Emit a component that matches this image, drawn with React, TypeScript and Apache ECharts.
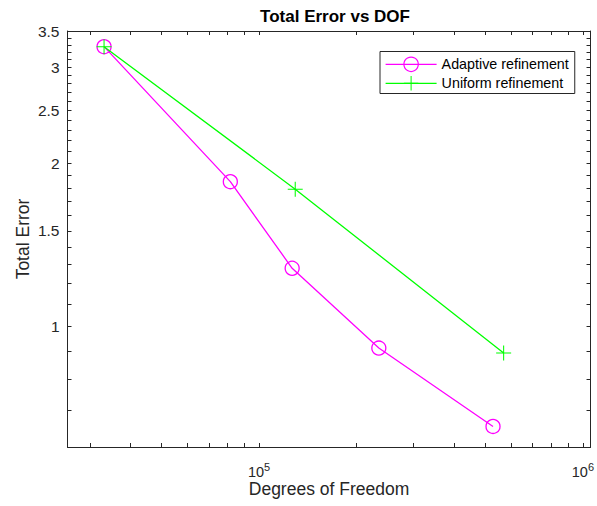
import React, { useEffect, useRef } from "react";
import * as echarts from "echarts";

// Data (log-log plot)
const dofAdaptive = [33200, 81500, 126500, 234300, 527800];
const errAdaptive = [3.275, 1.848, 1.28, 0.9126, 0.6546];
const dofUniform = [33200, 129300, 569200];
const errUniform = [3.275, 1.79, 0.8936];

// Axis limits and ticks
const xLimits = [25600, 1056000];
const yLimits = [0.6, 3.5];
const xMinorTicks = [
  30000, 40000, 50000, 60000, 70000, 80000, 90000, 100000,
  200000, 300000, 400000, 500000, 600000, 700000, 800000, 900000, 1000000,
];
const xLabelTicks = [100000, 1000000];
const yMinorTicks = [
  0.6, 0.7, 0.8, 0.9, 1.0, 1.1, 1.2, 1.3, 1.4, 1.5, 1.6, 1.7, 1.8, 1.9, 2.0,
  2.1, 2.2, 2.3, 2.4, 2.5, 2.6, 2.7, 2.8, 2.9, 3.0, 3.1, 3.2, 3.3, 3.4, 3.5,
];
const yLabelTicks = [1, 1.5, 2, 2.5, 3, 3.5];

const L = (v: number) => Math.log10(v);
const AX = "#262626";
const FONT = "'Liberation Sans', Arial, Helvetica, sans-serif";

export default function App() {
  const ref = useRef<HTMLDivElement>(null);
  useEffect(() => {
    if (!ref.current) return;
    const chart = echarts.init(ref.current, undefined, { renderer: "svg" });

    const xBase = {
      type: "value" as const,
      min: L(xLimits[0]),
      max: L(xLimits[1]),
      splitLine: { show: false },
      axisLine: { show: true, onZero: false, lineStyle: { color: AX, width: 1 } },
      axisTick: {
        show: true,
        inside: true,
        length: 4,
        customValues: xMinorTicks.map(L),
        lineStyle: { color: AX, width: 1 },
      },
    };
    const yBase = {
      type: "value" as const,
      min: L(yLimits[0]),
      max: L(yLimits[1]),
      splitLine: { show: false },
      axisLine: { show: true, onZero: false, lineStyle: { color: AX, width: 1 } },
      axisTick: {
        show: true,
        inside: true,
        length: 4,
        customValues: yMinorTicks.map(L),
        lineStyle: { color: AX, width: 1 },
      },
    };

    const plusPath =
      "path://M-0.07,-1L0.07,-1L0.07,1L-0.07,1Z M-1,-0.07L1,-0.07L1,0.07L-1,0.07Z";

    chart.setOption({
      animation: false,
      backgroundColor: "#ffffff",
      textStyle: { fontFamily: FONT },
      title: {
        text: "Total Error vs DOF",
        left: 330,
        textAlign: "center",
        top: 3,
        textStyle: { fontFamily: FONT, fontSize: 17, fontWeight: "bold", color: "#000" },
      },
      grid: { left: 67.5, right: 4, top: 31, bottom: 59, containLabel: false },
      legend: {
        orient: "vertical",
        left: 380,
        top: 51.5,
        padding: [5, 6, 3, 5],
        itemWidth: 51,
        itemHeight: 18,
        itemGap: 4,
        borderColor: AX,
        borderWidth: 1,
        borderRadius: 0,
        backgroundColor: "#ffffff",
        lineStyle: { width: 1.2 },
        itemStyle: { borderWidth: 1.2 },
        textStyle: { fontFamily: FONT, fontSize: 14.3, color: "#000" },
        data: ["Adaptive refinement", "Uniform refinement"],
      },
      xAxis: [
        {
          ...xBase,
          position: "bottom",
          name: "Degrees of Freedom",
          nameLocation: "middle",
          nameGap: 33,
          nameMoveOverlap: false,
          nameTextStyle: { fontFamily: FONT, fontSize: 17.5, color: AX },
          axisLabel: {
            show: true,
            customValues: xLabelTicks.map(L),
            margin: 14,
            fontSize: 14,
            formatter: (v: number) => `{base|10}{sup|${Math.round(v)}}`,
            rich: {
              base: {
                fontFamily: FONT,
                fontSize: 14.5,
                color: AX,
                lineHeight: 18,
                verticalAlign: "bottom",
              },
              sup: {
                fontFamily: FONT,
                fontSize: 11,
                color: AX,
                lineHeight: 7,
                verticalAlign: "top",
              },
            },
          },
        },
        {
          ...xBase,
          position: "top",
          axisLabel: { show: false },
        },
      ],
      yAxis: [
        {
          ...yBase,
          position: "left",
          name: "Total Error",
          nameLocation: "middle",
          nameRotate: 90,
          nameGap: 36,
          nameMoveOverlap: false,
          nameTextStyle: { fontFamily: FONT, fontSize: 17.5, color: AX },
          axisLabel: {
            show: true,
            customValues: yLabelTicks.map(L),
            margin: 8,
            fontFamily: FONT,
            fontSize: 15.5,
            color: AX,
            formatter: (v: number) => String(parseFloat(Math.pow(10, v).toFixed(2))),
          },
        },
        {
          ...yBase,
          position: "right",
          axisLabel: { show: false },
        },
      ],
      series: [
        {
          name: "Adaptive refinement",
          type: "line",
          xAxisIndex: 0,
          yAxisIndex: 0,
          data: dofAdaptive.map((d, i) => [L(d), L(errAdaptive[i])]),
          symbol: "circle",
          symbolSize: 14,
          showAllSymbol: true,
          lineStyle: { color: "#ff00ff", width: 1.3 },
          itemStyle: { color: "rgba(0,0,0,0)", borderColor: "#ff00ff", borderWidth: 1.3 },
          emphasis: { disabled: true },
          z: 3,
        },
        {
          name: "Uniform refinement",
          type: "line",
          xAxisIndex: 0,
          yAxisIndex: 0,
          data: dofUniform.map((d, i) => [L(d), L(errUniform[i])]),
          symbol: plusPath,
          symbolSize: 15,
          showAllSymbol: true,
          lineStyle: { color: "#00ff00", width: 1.3 },
          itemStyle: { color: "#00ff00" },
          emphasis: { disabled: true },
          z: 4,
        },
      ],
    });
    return () => chart.dispose();
  }, []);

  return (
    <div
      ref={ref}
      style={{ position: "fixed", left: 0, top: 0, width: 597, height: 506, background: "#fff" }}
    />
  );
}
